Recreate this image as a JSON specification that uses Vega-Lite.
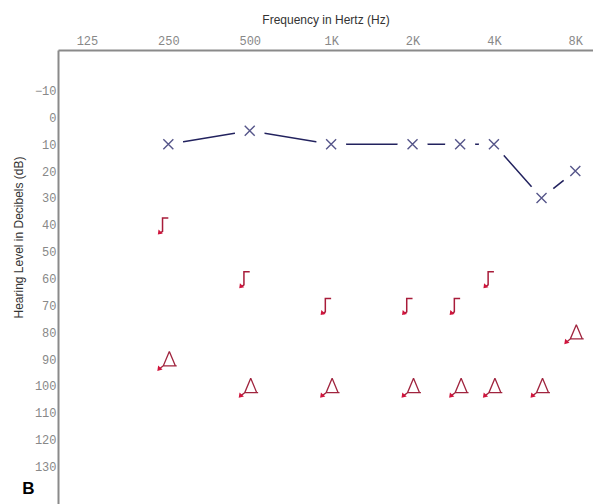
{
  "$schema": "https://vega.github.io/schema/vega-lite/v6.json",
  "width": 535,
  "height": 454,
  "autosize": {"type": "none"},
  "padding": {"left": 58, "top": 50, "right": 0, "bottom": 0},
  "background": "white",
  "config": {"view": {"stroke": null}},
  "datasets": {
    "ac": [
      {"freq": 250, "db": 10}, {"freq": 500, "db": 5}, {"freq": 1000, "db": 10},
      {"freq": 2000, "db": 10}, {"freq": 3000, "db": 10}, {"freq": 4000, "db": 10},
      {"freq": 6000, "db": 30}, {"freq": 8000, "db": 20}
    ],
    "bc": [
      {"freq": 250, "db": 40}, {"freq": 500, "db": 60}, {"freq": 1000, "db": 70},
      {"freq": 2000, "db": 70}, {"freq": 3000, "db": 70}, {"freq": 4000, "db": 60}
    ],
    "tri": [
      {"freq": 250, "db": 90}, {"freq": 500, "db": 100}, {"freq": 1000, "db": 100},
      {"freq": 2000, "db": 100}, {"freq": 3000, "db": 100}, {"freq": 4000, "db": 100},
      {"freq": 6000, "db": 100}, {"freq": 8000, "db": 80}
    ],
    "lab": [{"freq": 75.9, "db": 138.4, "label": "B"}]
  },
  "encoding": {
    "x": {
      "field": "freq", "type": "quantitative",
      "scale": {"type": "log", "base": 2, "domain": [97.7, 9300], "nice": false, "zero": false},
      "axis": {
        "orient": "top",
        "values": [125, 250, 500, 1000, 2000, 4000, 8000],
        "labelExpr": "datum.value >= 1000 ? format(datum.value/1000, 'd') + 'K' : datum.label",
        "grid": false, "ticks": false,
        "domainColor": "#8a8a8a", "domainWidth": 2,
        "labelFont": "Liberation Mono", "labelFontSize": 12, "labelColor": "#888888",
        "labelPadding": 3, "labelFlush": false, "labelOverlap": false,
        "title": "Frequency in Hertz (Hz)",
        "titleFont": "Liberation Sans", "titleFontSize": 12, "titleFontWeight": "normal",
        "titleColor": "#333333", "titleY": -31, "titleBaseline": "middle"
      }
    },
    "y": {
      "field": "db", "type": "quantitative",
      "scale": {"domain": [-25.1, 144], "reverse": true, "nice": false, "zero": false},
      "axis": {
        "orient": "left",
        "values": [-10, 0, 10, 20, 30, 40, 50, 60, 70, 80, 90, 100, 110, 120, 130],
        "grid": false, "ticks": false,
        "domainColor": "#8a8a8a", "domainWidth": 2,
        "labelFont": "Liberation Mono", "labelFontSize": 12, "labelColor": "#888888",
        "labelPadding": 2, "labelOverlap": false, "labelFlush": false,
        "title": "Hearing Level in Decibels (dB)",
        "titleFont": "Liberation Sans", "titleFontSize": 12, "titleFontWeight": "normal",
        "titleColor": "#333333", "titleX": -40, "titleY": 187, "titleBaseline": "middle"
      }
    }
  },
  "layer": [
    {
      "data": {"name": "ac"},
      "mark": {"type": "line", "color": "#22225e", "strokeWidth": 1.5},
      "encoding": {}
    },
    {
      "data": {"name": "ac"},
      "mark": {"type": "point", "shape": "circle", "size": 900, "filled": true, "color": "white", "opacity": 1, "strokeWidth": 0}
    },
    {
      "data": {"name": "ac"},
      "mark": {"type": "point", "shape": "M-5,-5L5,5M-5,5L5,-5", "size": 4, "filled": false, "color": "#56568a", "strokeWidth": 1.4, "opacity": 1}
    },
    {
      "data": {"name": "bc"},
      "mark": {"type": "point", "shape": "M0,-6.8L-5.8,-6.8L-5.8,6.5L-8.5,8.5", "size": 4, "filled": false, "color": "#a81c3a", "strokeWidth": 1.5, "opacity": 1}
    },
    {
      "data": {"name": "bc"},
      "mark": {"type": "point", "shape": "M-10.5,9.8L-9.8,4.8L-5.5,8.8Z", "size": 4, "filled": true, "color": "#d0143c", "strokeWidth": 0, "opacity": 1}
    },
    {
      "data": {"name": "tri"},
      "mark": {"type": "point", "shape": "M1,-7.5L-5,6.8L8.4,6.8M7,6.8L1,-7.5M-5,6.8L-8.5,9.5", "size": 4, "filled": false, "color": "#a0243e", "strokeWidth": 1.3, "opacity": 1}
    },
    {
      "data": {"name": "tri"},
      "mark": {"type": "point", "shape": "M-11,12L-10.2,6.6L-5.8,10.6Z", "size": 4, "filled": true, "color": "#d0143c", "strokeWidth": 0, "opacity": 1}
    },
    {
      "data": {"name": "lab"},
      "mark": {"type": "text", "font": "Liberation Sans", "fontSize": 17, "fontWeight": "bold", "color": "#000000", "align": "center", "baseline": "middle"},
      "encoding": {"text": {"field": "label"}}
    }
  ]
}
